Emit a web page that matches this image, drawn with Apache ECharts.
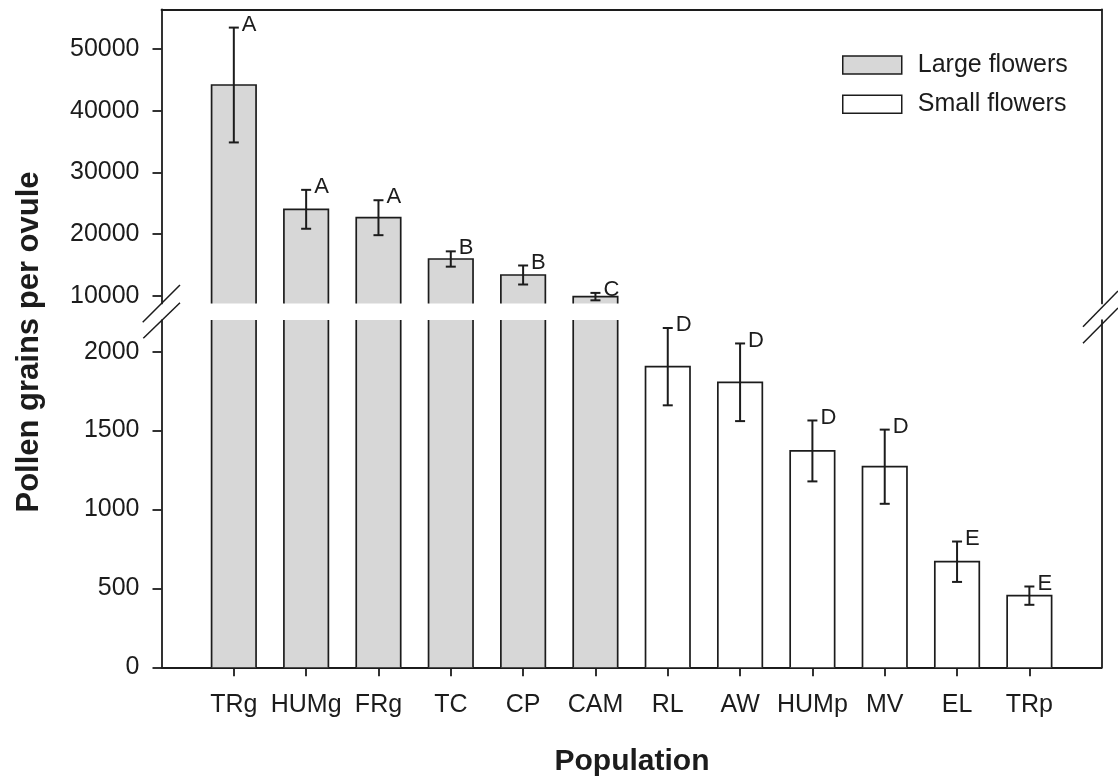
<!DOCTYPE html>
<html>
<head>
<meta charset="utf-8">
<script src="https://cdn.jsdelivr.net/npm/echarts@6/dist/echarts.min.js"></script>
<style>html,body{margin:0;padding:0;background:#fff}#c{width:1118px;height:779px}</style>
</head>
<body>
<div id="c"></div>
<script>
// ---------------- data ----------------
const categories = ['TRg', 'HUMg', 'FRg', 'TC', 'CP', 'CAM', 'RL', 'AW', 'HUMp', 'MV', 'EL', 'TRp'];
const means  = [44170, 24040, 22680, 15990, 13400, 9900, 1905, 1806, 1371, 1271, 669, 454];
const errors = [9300, 3150, 2830, 1240, 1540, 600, 245, 246, 193, 235, 128, 58];
const letters = ['A', 'A', 'A', 'B', 'B', 'C', 'D', 'D', 'D', 'D', 'E', 'E'];
const groups = ['Large flowers', 'Large flowers', 'Large flowers', 'Large flowers', 'Large flowers', 'Large flowers',
                'Small flowers', 'Small flowers', 'Small flowers', 'Small flowers', 'Small flowers', 'Small flowers'];
const upperTicks = [10000, 20000, 30000, 40000, 50000];
const lowerTicks = [0, 500, 1000, 1500, 2000];
const seriesNames = ['Large flowers', 'Small flowers'];

// ---------------- style ----------------
const FONT = '"Liberation Sans", Arial, Helvetica, sans-serif';
const INK = '#1c1c1c';
const LARGE_FILL = '#d7d7d7';
const SMALL_FILL = '#ffffff';
const BAR_FRAC = 0.615;

const positions = categories.map((c, i) => i + 1);
function itemsFor(group) {
  return categories.map((c, i) => i).filter(i => groups[i] === group)
    .map(i => [i + 1, means[i], errors[i], i]);
}

function renderBar(params, api) {
  const cs = params.coordSys;
  const x = api.value(0), v = api.value(1);
  const p = api.coord([x, v]);
  const b = api.coord([x, 0]);
  const w = api.size([BAR_FRAC, 0])[0];
  const top = Math.max(p[1], cs.y);
  const bot = Math.min(b[1], cs.y + cs.height);
  if (bot - top <= 0) return null;
  const l = p[0] - w / 2, r = p[0] + w / 2;
  const children = [{
    type: 'rect', shape: { x: l, y: top, width: w, height: bot - top },
    style: { fill: api.visual('color'), stroke: null }
  }];
  const ls = { stroke: INK, lineWidth: 1.7, fill: null };
  if (p[1] >= cs.y) {
    children.push({ type: 'polyline', shape: { points: [[l, bot], [l, top], [r, top], [r, bot]] }, style: ls });
  } else {
    children.push({ type: 'line', shape: { x1: l, y1: top, x2: l, y2: bot }, style: ls });
    children.push({ type: 'line', shape: { x1: r, y1: top, x2: r, y2: bot }, style: ls });
  }
  return { type: 'group', children };
}

function renderErr(params, api) {
  const cs = params.coordSys;
  const x = api.value(0), m = api.value(1), e = api.value(2), idx = api.value(3);
  const t = api.coord([x, m + e]);
  const bo = api.coord([x, m - e]);
  const cap = 5;
  const ls = { stroke: INK, lineWidth: 2, fill: null };
  const botY = Math.min(bo[1], cs.y + cs.height);
  const children = [
    { type: 'line', shape: { x1: t[0], y1: t[1], x2: t[0], y2: botY }, style: ls },
    { type: 'line', shape: { x1: t[0] - cap, y1: t[1], x2: t[0] + cap, y2: t[1] }, style: ls }
  ];
  if (bo[1] <= cs.y + cs.height) {
    children.push({ type: 'line', shape: { x1: bo[0] - cap, y1: bo[1], x2: bo[0] + cap, y2: bo[1] }, style: ls });
  }
  children.push({
    type: 'text', x: t[0] + 8, y: t[1] - 3,
    style: {
      text: letters[idx], fill: INK, font: '22px ' + FONT, fontSize: 22, fontFamily: FONT,
      align: 'left', verticalAlign: 'middle', textAlign: 'left', textVerticalAlign: 'middle'
    }
  });
  return { type: 'group', children };
}

const axisLineStyle = { color: INK, width: 1.8 };
const labelStyle = { color: INK, fontSize: 25, fontFamily: FONT };
const plain = v => String(v);

const chart = echarts.init(document.getElementById('c'), null, { renderer: 'canvas' });
chart.setOption({
  animation: false,
  backgroundColor: '#ffffff',
  grid: [
    { left: 161.5, width: 940.2, top: 9.5, height: 293.9, outerBoundsMode: 'none', containLabel: false },
    { left: 161.5, width: 940.2, top: 320.1, height: 347.2, outerBoundsMode: 'none', containLabel: false }
  ],
  xAxis: [
    { gridIndex: 0, type: 'value', min: 0, max: 13, position: 'top',
      axisLine: { show: true, onZero: false, lineStyle: axisLineStyle },
      axisTick: { show: false }, axisLabel: { show: false }, splitLine: { show: false } },
    { gridIndex: 1, type: 'value', min: 0, max: 13, position: 'bottom',
      axisLine: { show: true, onZero: false, lineStyle: axisLineStyle },
      axisTick: { show: true, inside: false, length: 9, customValues: positions, lineStyle: axisLineStyle },
      axisLabel: { show: true, customValues: positions, margin: 25, formatter: v => categories[Math.round(v) - 1] || '', ...labelStyle },
      splitLine: { show: false } }
  ],
  yAxis: [
    { gridIndex: 0, type: 'value', min: 8800, max: 56400, position: 'left',
      axisLine: { show: true, onZero: false, lineStyle: axisLineStyle },
      axisTick: { show: true, inside: false, length: 9, customValues: upperTicks, lineStyle: axisLineStyle },
      axisLabel: { show: true, customValues: upperTicks, margin: 22, formatter: plain, ...labelStyle },
      splitLine: { show: false } },
    { gridIndex: 0, type: 'value', min: 8800, max: 56400, position: 'right',
      axisLine: { show: true, onZero: false, lineStyle: axisLineStyle },
      axisTick: { show: false }, axisLabel: { show: false }, splitLine: { show: false } },
    { gridIndex: 1, type: 'value', min: 0, max: 2200, interval: 500, position: 'left',
      axisLine: { show: true, onZero: false, lineStyle: axisLineStyle },
      axisTick: { show: true, inside: false, length: 9, customValues: lowerTicks, lineStyle: axisLineStyle },
      axisLabel: { show: true, customValues: lowerTicks, margin: 22, formatter: plain, ...labelStyle },
      splitLine: { show: false } },
    { gridIndex: 1, type: 'value', min: 0, max: 2200, interval: 500, position: 'right',
      axisLine: { show: true, onZero: false, lineStyle: axisLineStyle },
      axisTick: { show: false }, axisLabel: { show: false }, splitLine: { show: false } }
  ],
  legend: {
    orient: 'vertical', left: 842, top: 52.5, padding: 0,
    itemWidth: 59, itemHeight: 18, itemGap: 14.3, icon: 'rect', selectedMode: false,
    data: [
      { name: seriesNames[0], itemStyle: { color: LARGE_FILL, borderColor: INK, borderWidth: 1.5 } },
      { name: seriesNames[1], itemStyle: { color: SMALL_FILL, borderColor: INK, borderWidth: 1.5 } }
    ],
    textStyle: { color: INK, fontSize: 25, fontFamily: FONT, lineHeight: 18, padding: [0, 0, 0, 11] }
  },
  series: [
    { type: 'custom', name: seriesNames[0], xAxisIndex: 0, yAxisIndex: 0, renderItem: renderBar,
      itemStyle: { color: LARGE_FILL }, encode: { x: 0, y: 1 }, data: itemsFor(seriesNames[0]) },
    { type: 'custom', name: seriesNames[0], xAxisIndex: 1, yAxisIndex: 2, renderItem: renderBar,
      itemStyle: { color: LARGE_FILL }, encode: { x: 0, y: 1 }, data: itemsFor(seriesNames[0]) },
    { type: 'custom', name: seriesNames[1], xAxisIndex: 1, yAxisIndex: 2, renderItem: renderBar,
      itemStyle: { color: SMALL_FILL }, encode: { x: 0, y: 1 }, data: itemsFor(seriesNames[1]) },
    { type: 'custom', name: 'errLarge', xAxisIndex: 0, yAxisIndex: 0, renderItem: renderErr, z: 5,
      encode: { x: 0, y: 1 }, data: itemsFor(seriesNames[0]) },
    { type: 'custom', name: 'errSmall', xAxisIndex: 1, yAxisIndex: 2, renderItem: renderErr, z: 5,
      encode: { x: 0, y: 1 }, data: itemsFor(seriesNames[1]) }
  ],
  graphic: [
    { type: 'text', x: 29, y: 342, rotation: Math.PI / 2,
      style: { text: 'Pollen grains per ovule', fill: INK, fontSize: 31, fontWeight: 'bold', fontFamily: FONT,
               align: 'center', verticalAlign: 'middle', textAlign: 'center', textVerticalAlign: 'middle' } },
    { type: 'text', x: 632, y: 762,
      style: { text: 'Population', fill: INK, fontSize: 30, fontWeight: 'bold', fontFamily: FONT,
               align: 'center', verticalAlign: 'middle', textAlign: 'center', textVerticalAlign: 'middle' } },
    // axis break marks
    { type: 'line', shape: { x1: 142.7, y1: 322.3, x2: 180, y2: 285 }, style: { stroke: INK, lineWidth: 1.5 } },
    { type: 'line', shape: { x1: 143.3, y1: 338.3, x2: 180, y2: 302.7 }, style: { stroke: INK, lineWidth: 1.5 } },
    { type: 'line', shape: { x1: 1083, y1: 326.7, x2: 1118, y2: 291 }, style: { stroke: INK, lineWidth: 1.5 } },
    { type: 'line', shape: { x1: 1083, y1: 343.3, x2: 1118, y2: 308 }, style: { stroke: INK, lineWidth: 1.5 } }
  ]
});
</script>
</body>
</html>
